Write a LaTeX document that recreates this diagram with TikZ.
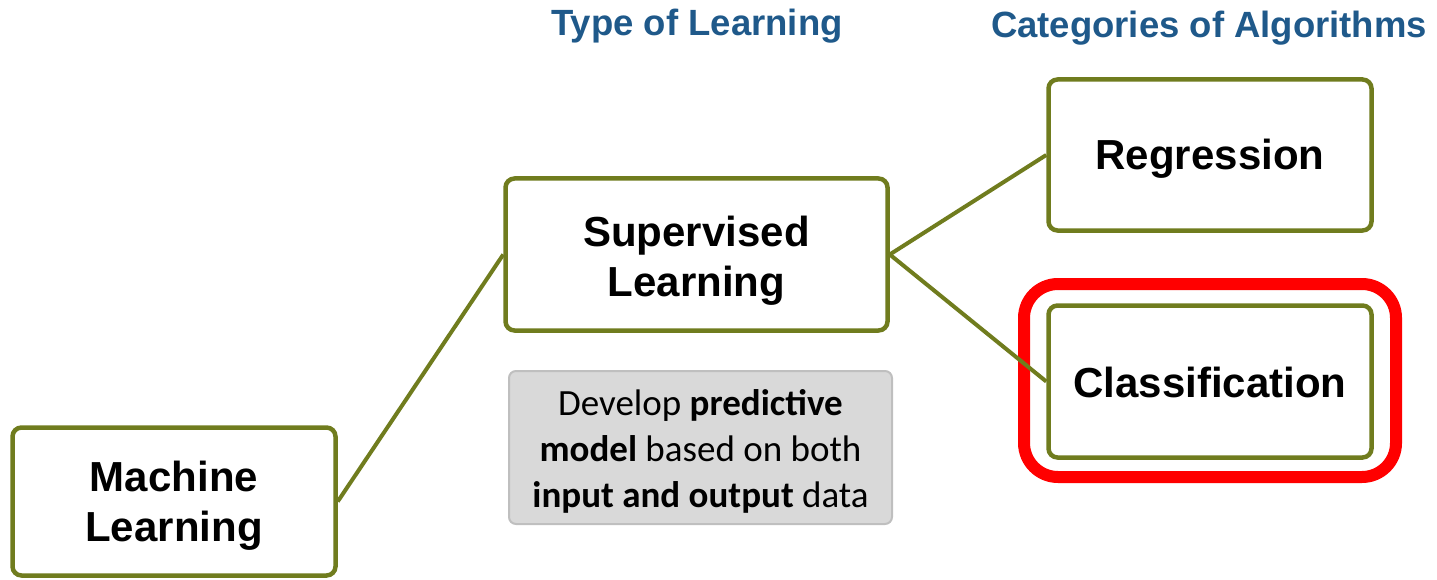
\documentclass[tikz,border=0pt]{standalone}
\usepackage{fontspec}
\setmainfont{Liberation Sans}
\newfontfamily\notefont{Carlito}
\definecolor{olivebox}{RGB}{112,124,30}
\definecolor{headblue}{RGB}{31,89,138}
\definecolor{notefill}{RGB}{217,217,217}
\definecolor{noteline}{RGB}{191,191,191}
\definecolor{hilite}{RGB}{255,0,0}
% centred lines of a box label, drawn a little below the box centre
\newcommand{\boxlines}[2]{\raisebox{#1}[\height][\depth]{\begin{tabular}{@{}c@{}}#2\end{tabular}}}
\begin{document}
\begin{tikzpicture}[x=1pt,y=-1pt,
  mlbox/.style={draw=olivebox, line width=4.5pt, rounded corners=9pt, fill=white,
    align=center, inner sep=0pt, font=\fontsize{42}{50}\selectfont\bfseries},
  header/.style={text=headblue, font=\fontsize{36.5}{42}\selectfont\bfseries, anchor=base},
  notebox/.style={draw=noteline, line width=2pt, fill=notefill, rounded corners=7pt,
    align=center, inner sep=0pt, font=\notefont\fontsize{37}{46}\selectfont},
  link/.style={draw=olivebox, line width=4pt}]
\useasboundingbox (0,0) rectangle (1437,580);

% column headings
\node[header] (hType) at (697,36) {Type of Learning};
\node[header] (hCat) at (1209,38) {Categories of Algorithms};

% boxes of the hierarchy
\node[mlbox, minimum width=323pt, minimum height=148pt] (ml) at (174,501.5)
  {\boxlines{-5pt}{Machine\\Learning}};
\node[mlbox, minimum width=382pt, minimum height=152pt] (sup) at (696.5,254.5)
  {\boxlines{-7pt}{Supervised\\Learning}};
\node[mlbox, minimum width=323pt, minimum height=151pt] (reg) at (1210,155)
  {\boxlines{-5pt}{Regression}};
\node[mlbox, minimum width=323pt, minimum height=152pt] (cls) at (1210,381.5)
  {\boxlines{-6pt}{Classification}};

% highlight around the classification box
\node[draw=hilite, line width=12pt, rounded corners=34pt, minimum width=372pt,
  minimum height=193pt, inner sep=0pt] (mark) at (1210,380.5) {};

% description of supervised learning
\node[notebox, minimum width=383pt, minimum height=153pt] (note) at (700.5,447.5)
  {\boxlines{-5pt}{Develop \textbf{predictive}\\\textbf{model} based on both\\\textbf{input and output} data}};

% connectors
\draw[link] (ml.east) -- (sup.west);
\draw[link] (sup.east) -- (reg.west);
\draw[link] (sup.east) -- (cls.west);
\end{tikzpicture}
\end{document}
